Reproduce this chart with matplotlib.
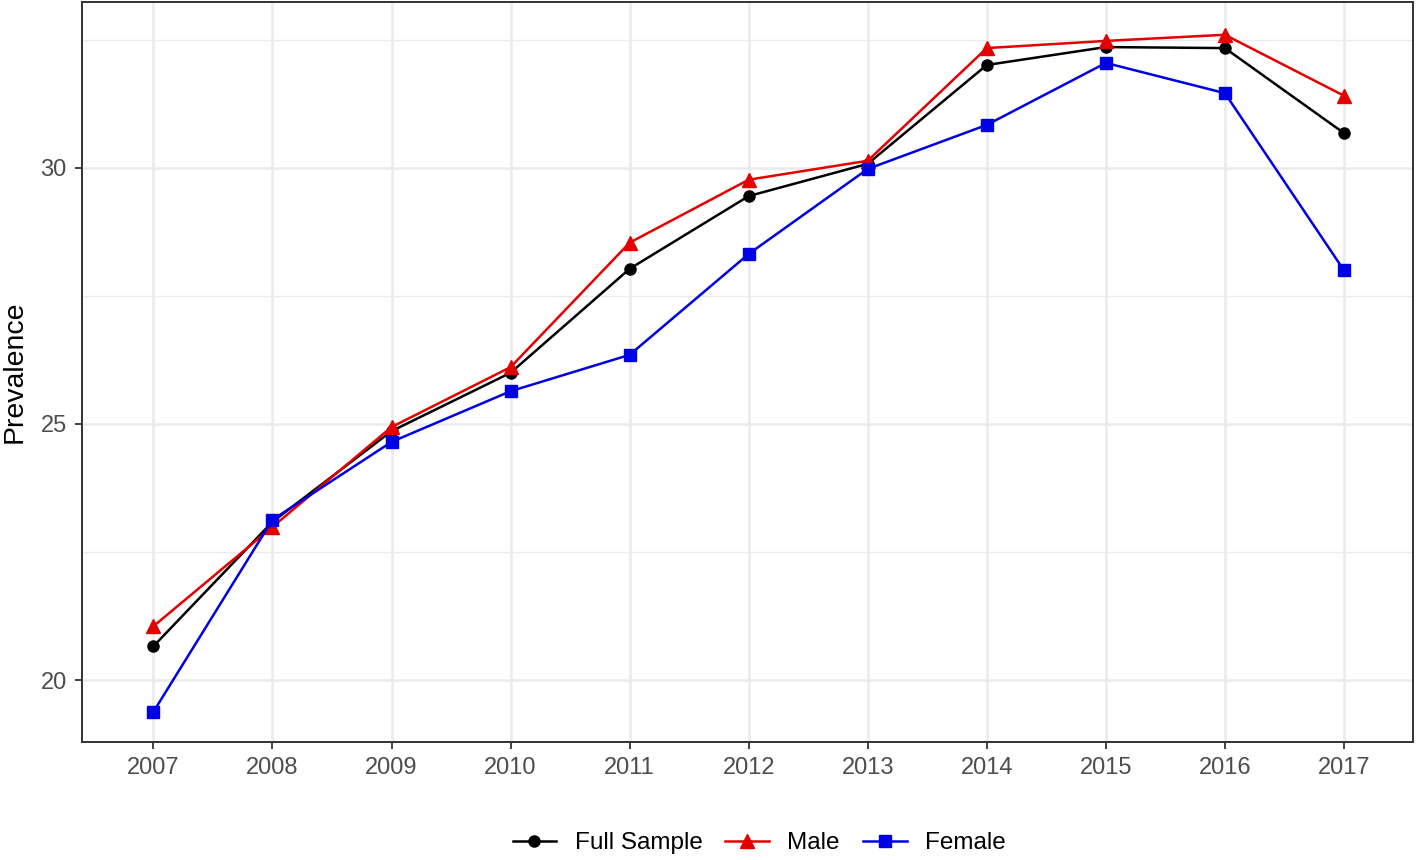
import matplotlib
matplotlib.use("Agg")
import matplotlib.pyplot as plt
from matplotlib.ticker import MultipleLocator

plt.rcParams['font.family'] = ['Liberation Sans', 'DejaVu Sans']

years = [2007, 2008, 2009, 2010, 2011, 2012, 2013, 2014, 2015, 2016, 2017]
full_sample = [20.66, 23.09, 24.86, 26.00, 28.03, 29.45, 30.08, 32.01, 32.36, 32.34, 30.68]
male = [21.05, 22.99, 24.94, 26.11, 28.54, 29.77, 30.14, 32.34, 32.48, 32.60, 31.41]
female = [19.38, 23.13, 24.65, 25.64, 26.35, 28.32, 29.98, 30.84, 32.05, 31.46, 28.00]

W, H = 1419, 860
fig = plt.figure(figsize=(W / 100, H / 100), dpi=100)
ax = fig.add_axes([82 / W, 1 - 742 / H, (1413 - 82) / W, (742 - 2) / H])

ax.plot(years, full_sample, color='black', marker='o', markersize=8, lw=1.8, label='Full Sample', zorder=3)
ax.plot(years, male, color='#E50000', marker='^', markersize=10, lw=1.8, label='Male', zorder=3)
ax.plot(years, female, color='#0000E5', marker='s', markersize=8, lw=1.8, label='Female', zorder=3)

ax.set_xlim(2006.4, 2017.58)
ax.set_ylim(18.79, 33.24)
ax.set_xticks(years)
ax.set_xticklabels([str(y) for y in years])
ax.yaxis.set_major_locator(MultipleLocator(5))
ax.yaxis.set_minor_locator(MultipleLocator(2.5))

ax.grid(True, which='major', color='#EBEBEB', lw=1.8, zorder=0)
ax.grid(True, which='minor', axis='y', color='#EBEBEB', lw=1.0, zorder=0)
ax.set_axisbelow(True)
for s in ax.spines.values():
    s.set_color('#333333')
    s.set_linewidth(1.4)

ax.tick_params(axis='both', which='major', length=5, width=1.3, color='#333333',
               labelcolor='#4D4D4D', labelsize=17, pad=6)
ax.tick_params(axis='y', which='minor', length=0)

ax.set_ylabel('Prevalence', fontsize=20.5, color='black')
ax.yaxis.set_label_coords(-(82 - 28) / (1413 - 82), 0.5)

leg = fig.legend(loc='center', bbox_to_anchor=(0.535, 1 - 843 / H), ncol=3, frameon=False,
                 fontsize=17.5, handlelength=1.8, columnspacing=0.95, handletextpad=0.75)

fig.savefig('out.png', dpi=100)
